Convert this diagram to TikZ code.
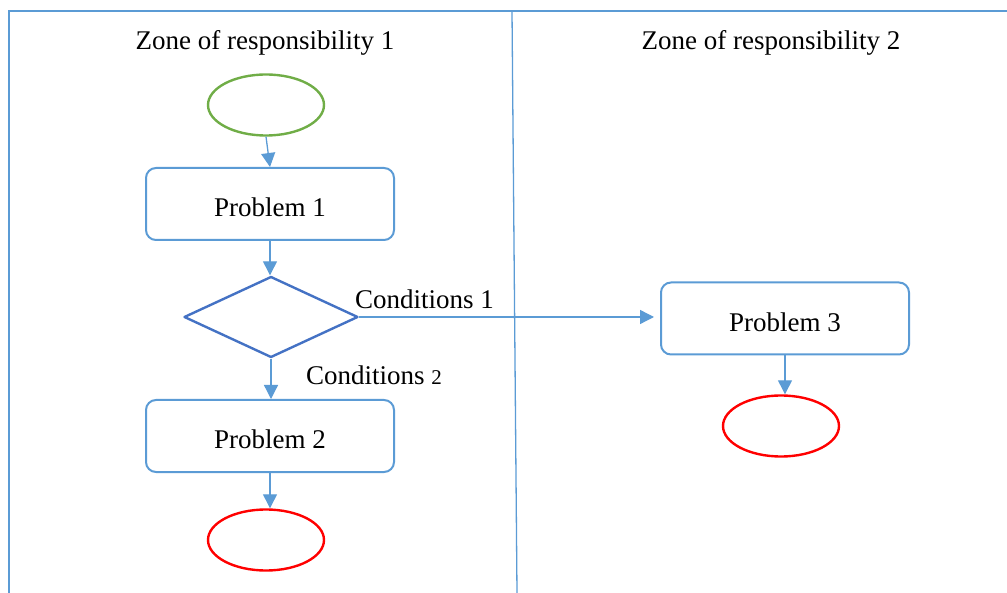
\documentclass[tikz,border=0pt]{standalone}
\usepackage{fontspec}
\setmainfont{Liberation Serif}
\usetikzlibrary{arrows.meta,shapes.geometric}
\definecolor{laneblue}{HTML}{5B9BD5}
\definecolor{decblue}{HTML}{4472C4}
\definecolor{startgreen}{HTML}{70AD47}
\definecolor{stopred}{HTML}{FF0000}
\begin{document}
\begin{tikzpicture}[x=1pt, y=-1pt, line join=round,
    every node/.style={font=\fontsize{27}{32}\selectfont},
    task/.style={draw=laneblue, line width=2pt, rounded corners=10pt, minimum width=248pt, minimum height=72pt, inner sep=0pt, text height=26pt, text depth=0pt},
    terminal/.style={ellipse, line width=2.4pt, minimum width=116pt, minimum height=61pt, inner sep=0pt},
    decision/.style={diamond, draw=decblue, line width=2.4pt, minimum width=174pt, minimum height=81pt, inner sep=0pt},
    flow/.style={draw=laneblue, line width=1.3pt, -{Triangle[width=14pt,length=14pt]}}]

    \useasboundingbox (0,0) rectangle (1007,593);

    % Cadre des zones
    \draw[laneblue, line width=2.5pt] (8,11) -- (1007,11);
    \draw[laneblue, line width=2.5pt] (9,11) -- (9,593);
    \draw[laneblue, line width=1.3pt] (512,11) -- (517,593); % separation

    % Titres
    \node[anchor=base] (zone1) at (265,50) {Zone of responsibility 1};
    \node[anchor=base] (zone2) at (771,50) {Zone of responsibility 2};

    % Zone 1
    \node[terminal, draw=startgreen] (start) at (266,105) {};
    \node[task] (prob1) at (270,204) {Problem 1};
    \node[decision] (dec) at (271,317) {};
    \node[task] (prob2) at (270,436) {Problem 2};
    \node[terminal, draw=stopred] (stop1) at (266,540) {};

    % Zone 2
    \node[task] (prob3) at (785,318.5) {Problem 3};
    \node[terminal, draw=stopred] (stop2) at (781,426) {};

    % Fleches
    \draw[flow] (start.south) -- (prob1.north);
    \draw[flow] (prob1.south) -- (prob1.south |- dec.north);
    \draw[flow] (dec.east) -- ([xshift=-6pt]dec.east -| prob3.west);
    \draw[flow] (dec.south) -- (dec.south |- prob2.north);
    \draw[flow] (prob2.south) -- (prob2.south |- stop1.north);
    \draw[flow] (prob3.south) -- (prob3.south |- stop2.north);

    % Conditions
    \node[anchor=base west, inner sep=0pt] (cond1) at (355,309) {Conditions 1};
    \node[anchor=base west, inner sep=0pt] (cond2) at (306,385) {Conditions {\fontsize{21}{24}\selectfont 2}};

\end{tikzpicture}
\end{document}
